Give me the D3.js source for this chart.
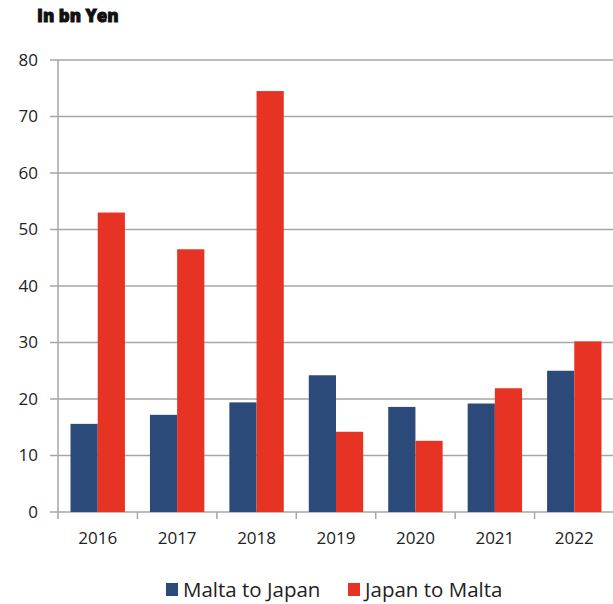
<!DOCTYPE html>
<html>
<head>
<meta charset="utf-8">
<script src="https://cdn.jsdelivr.net/npm/d3@7"></script>
<style>
  body { margin: 0; background: #fff; }
  text { font-family: "Open Sans", sans-serif; fill: #222; }
</style>
</head>
<body>
<div id="chart"></div>
<script>
var years = ["2016", "2017", "2018", "2019", "2020", "2021", "2022"];
var seriesNames = ["Malta to Japan", "Japan to Malta"];
var maltaToJapan = [15.6, 17.2, 19.4, 24.2, 18.6, 19.2, 25.0];
var japanToMalta = [53.0, 46.5, 74.5, 14.2, 12.6, 21.9, 30.2];
var yTicks = [0, 10, 20, 30, 40, 50, 60, 70, 80];
var colors = ["#2b4a7a", "#e63323"];

(function() {
  var width = 613,
    height = 604;

  var margin = { top: 60, left: 58, right: -1, bottom: 92 };

  var svg = d3.select("#chart")
    .append("svg")
    .attr("width", width)
    .attr("height", height);

  var x = d3.scaleBand()
    .domain(years)
    .range([margin.left, width - margin.right])
    .paddingInner(0)
    .paddingOuter(0);

  var xInner = d3.scaleBand()
    .domain(seriesNames)
    .range([0, x.bandwidth()])
    .paddingOuter(0.46)
    .paddingInner(0);

  var y = d3.scaleLinear()
    .domain([0, 80])
    .range([height - margin.bottom, margin.top]);

  // grid lines
  svg.append("g")
    .selectAll("line")
    .data(yTicks)
    .enter().append("line")
    .attr("x1", margin.left - 8)
    .attr("x2", width)
    .attr("y1", function(d) { return y(d); })
    .attr("y2", function(d) { return y(d); })
    .attr("stroke", "#a6a6a6")
    .attr("stroke-width", 1.5);

  // y axis line
  svg.append("line")
    .attr("x1", margin.left).attr("x2", margin.left)
    .attr("y1", y(80)).attr("y2", y(0))
    .attr("stroke", "#a6a6a6")
    .attr("stroke-width", 1.5);

  // y labels
  svg.append("g")
    .selectAll("text")
    .data(yTicks)
    .enter().append("text")
    .attr("x", 38)
    .attr("y", function(d) { return y(d); })
    .attr("dy", "0.35em")
    .attr("text-anchor", "end")
    .attr("font-size", 17)
    .text(function(d) { return d; });

  // x ticks
  var xTickPos = years.map(function(d) { return x(d); }).concat([x(years[6]) + x.bandwidth()]);
  svg.append("g")
    .selectAll("line")
    .data(xTickPos)
    .enter().append("line")
    .attr("x1", function(d) { return d; })
    .attr("x2", function(d) { return d; })
    .attr("y1", y(0))
    .attr("y2", y(0) + 7)
    .attr("stroke", "#a6a6a6")
    .attr("stroke-width", 1.5);

  // x labels
  svg.append("g")
    .selectAll("text")
    .data(years)
    .enter().append("text")
    .attr("x", function(d) { return x(d) + x.bandwidth() / 2; })
    .attr("y", 544)
    .attr("text-anchor", "middle")
    .attr("font-size", 17)
    .text(function(d) { return d; });

  // bars
  var groups = svg.append("g")
    .selectAll("g")
    .data(years)
    .enter().append("g")
    .attr("transform", function(d) { return "translate(" + x(d) + ",0)"; });

  groups.selectAll("rect")
    .data(function(d, i) {
      return [
        { series: seriesNames[0], value: maltaToJapan[i] },
        { series: seriesNames[1], value: japanToMalta[i] }
      ];
    })
    .enter().append("rect")
    .attr("x", function(d) { return xInner(d.series); })
    .attr("width", xInner.bandwidth())
    .attr("y", function(d) { return y(d.value); })
    .attr("height", function(d) { return y(0) - y(d.value); })
    .attr("fill", function(d, i) { return colors[i]; });

  // title
  svg.append("text")
    .attr("x", 37)
    .attr("y", 22)
    .attr("font-family", "DejaVu Sans")
    .attr("font-weight", 900)
    .attr("font-size", 17)
    .attr("stroke", "#111")
    .attr("stroke-width", 0.9)
    .style("fill", "#111")
    .text("In bn Yen");

  // legend
  var legendX = [166, 348];
  var legend = svg.append("g")
    .selectAll("g")
    .data(seriesNames)
    .enter().append("g")
    .attr("transform", function(d, i) { return "translate(" + legendX[i] + ",583)"; });

  legend.append("rect")
    .attr("width", 12)
    .attr("height", 13)
    .attr("fill", function(d, i) { return colors[i]; });

  legend.append("text")
    .attr("x", 17)
    .attr("y", 7)
    .attr("dy", "0.35em")
    .attr("font-size", 20.5)
    .text(function(d) { return d; });
})();
</script>
</body>
</html>
